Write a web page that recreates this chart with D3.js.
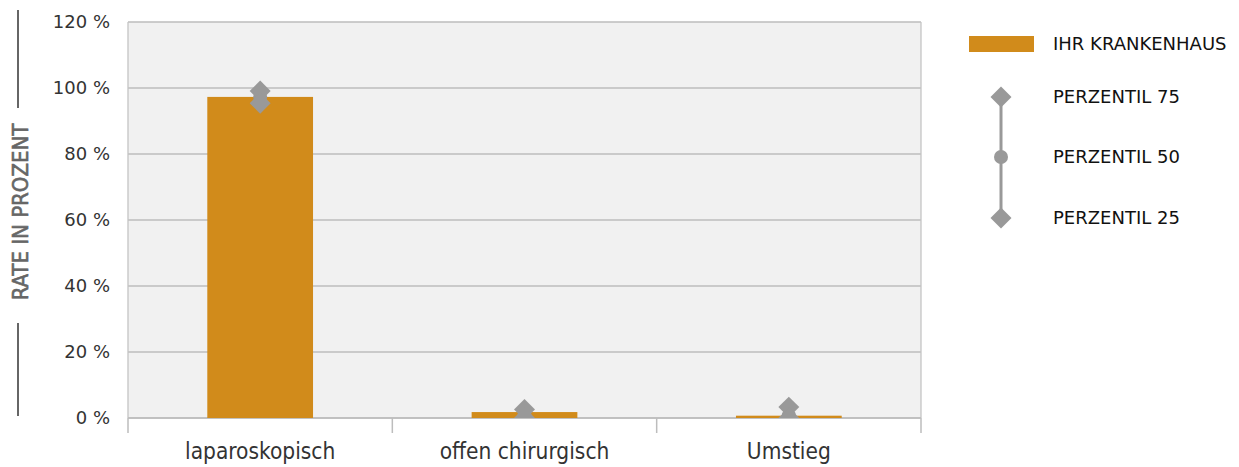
<!DOCTYPE html>
<html>
<head>
<meta charset="utf-8">
<script src="https://cdn.jsdelivr.net/npm/d3@7"></script>
<style>
  html, body { margin: 0; padding: 0; background: #fff; }
  svg { display: block; }
</style>
</head>
<body>
<svg id="chart" width="1239" height="467"></svg>
<script>
// Operationsverfahren: Rate des Krankenhauses und Perzentile der Vergleichsgruppe
const categories = ["laparoskopisch", "offen chirurgisch", "Umstieg"];
const hospitalRate = [97.3, 1.8, 0.7];
const percentile75 = [99.1, 2.6, 3.3];
const percentile50 = [97.3, 0.9, 0.8];
const percentile25 = [95.4, 0.0, 0.0];
const yTicks = [0, 20, 40, 60, 80, 100, 120];
const legendLabels = ["IHR KRANKENHAUS", "PERZENTIL 75", "PERZENTIL 50", "PERZENTIL 25"];

const orange = "#D18B1B";
const markerGray = "#999999";

const svg = d3.select("#chart");
const plot = { left: 128, right: 921, top: 22, bottom: 418 };

const x = d3.scaleBand().domain(categories).range([plot.left, plot.right]).paddingInner(0).paddingOuter(0);
const y = d3.scaleLinear().domain([0, 120]).range([plot.bottom, plot.top]);

// plot background
svg.append("rect")
  .attr("x", plot.left).attr("y", plot.top)
  .attr("width", plot.right - plot.left).attr("height", plot.bottom - plot.top)
  .attr("fill", "#f1f1f1");

// horizontal gridlines
svg.append("g").selectAll("line").data(yTicks).join("line")
  .attr("x1", plot.left).attr("x2", plot.right)
  .attr("y1", d => y(d)).attr("y2", d => y(d))
  .attr("stroke", "#bdbdbd").attr("stroke-width", 1.3);

// side borders
svg.append("g").selectAll("line").data([plot.left, plot.right]).join("line")
  .attr("x1", d => d).attr("x2", d => d)
  .attr("y1", plot.top).attr("y2", plot.bottom)
  .attr("stroke", "#c4c4c4").attr("stroke-width", 1.3);

// y axis tick labels
const yAxis = d3.axisLeft(y).tickValues(yTicks).tickFormat(d => d + " %").tickSize(0).tickPadding(18);
const yg = svg.append("g").attr("transform", `translate(${plot.left},0)`).call(yAxis);
yg.select(".domain").remove();
yg.selectAll("text")
  .attr("font-family", "DejaVu Sans, sans-serif")
  .attr("font-size", 18)
  .attr("fill", "#333");

// x axis with category separators
const xg = svg.append("g").attr("transform", `translate(0,${plot.bottom})`);
xg.append("line")
  .attr("x1", plot.left).attr("x2", plot.right).attr("y1", 0).attr("y2", 0)
  .attr("stroke", "#bdbdbd").attr("stroke-width", 1.5);
const seps = categories.map(c => x(c)).concat([x(categories[categories.length - 1]) + x.bandwidth()]);
xg.selectAll("line.sep").data(seps).join("line").attr("class", "sep")
  .attr("x1", d => d).attr("x2", d => d).attr("y1", 0).attr("y2", 15)
  .attr("stroke", "#bdbdbd").attr("stroke-width", 1.5);
xg.selectAll("text.cat").data(categories).join("text").attr("class", "cat")
  .attr("x", d => x(d) + x.bandwidth() / 2)
  .attr("y", 41)
  .attr("text-anchor", "middle")
  .attr("font-family", "DejaVu Sans Condensed, DejaVu Sans, sans-serif")
  .attr("font-stretch", "condensed")
  .attr("font-size", 22.5)
  .attr("fill", "#333")
  .text(d => d);

// clip for marks inside plot area
svg.append("clipPath").attr("id", "plotClip")
  .append("rect").attr("x", plot.left).attr("y", plot.top)
  .attr("width", plot.right - plot.left).attr("height", plot.bottom - plot.top);

// hospital bars
const barW = x.bandwidth() * 0.4;
svg.append("g").selectAll("rect").data(categories).join("rect")
  .attr("x", d => x(d) + (x.bandwidth() - barW) / 2)
  .attr("y", (d, i) => y(hospitalRate[i]))
  .attr("width", barW)
  .attr("height", (d, i) => y(0) - y(hospitalRate[i]))
  .attr("fill", orange);

// percentile markers
const diamond = d3.symbol().type(d3.symbolDiamond2).size(280);
const marks = svg.append("g").attr("clip-path", "url(#plotClip)");
categories.forEach((c, i) => {
  const cx = x(c) + x.bandwidth() / 2;
  marks.append("line")
    .attr("x1", cx).attr("x2", cx)
    .attr("y1", y(percentile75[i])).attr("y2", y(percentile25[i]))
    .attr("stroke", markerGray).attr("stroke-width", 3);
  marks.append("circle").attr("cx", cx).attr("cy", y(percentile50[i])).attr("r", 7).attr("fill", markerGray);
  [percentile75[i], percentile25[i]].forEach(v => {
    marks.append("path").attr("d", diamond)
      .attr("transform", `translate(${cx},${y(v)})`)
      .attr("fill", markerGray);
  });
});

// y axis title with flanking rules
const titleG = svg.append("g").attr("transform", "translate(20,212) rotate(-90)");
titleG.append("text")
  .attr("text-anchor", "middle")
  .attr("dy", "0.36em")
  .attr("font-family", "DejaVu Sans Condensed, DejaVu Sans, sans-serif")
  .attr("font-stretch", "condensed")
  .attr("font-size", 22)
  .attr("fill", "#666")
  .attr("stroke", "#666")
  .attr("stroke-width", 0.6)
  .text("RATE IN PROZENT");
svg.append("line").attr("x1", 18).attr("x2", 18).attr("y1", 10).attr("y2", 108)
  .attr("stroke", "#666").attr("stroke-width", 2);
svg.append("line").attr("x1", 18).attr("x2", 18).attr("y1", 323).attr("y2", 416)
  .attr("stroke", "#666").attr("stroke-width", 2);

// legend
const lg = svg.append("g");
const legendY = [44, 97, 157, 218];
lg.append("rect").attr("x", 969).attr("y", 36).attr("width", 65).attr("height", 16).attr("fill", orange);
lg.append("line").attr("x1", 1001).attr("x2", 1001).attr("y1", legendY[1]).attr("y2", legendY[3])
  .attr("stroke", markerGray).attr("stroke-width", 3);
lg.append("circle").attr("cx", 1001).attr("cy", legendY[2]).attr("r", 7).attr("fill", markerGray);
[legendY[1], legendY[3]].forEach(v => {
  lg.append("path").attr("d", diamond)
    .attr("transform", `translate(1001,${v})`)
    .attr("fill", markerGray);
});
lg.selectAll("text").data(legendLabels).join("text")
  .attr("x", 1053)
  .attr("y", (d, i) => legendY[i])
  .attr("dy", "0.36em")
  .attr("font-family", "DejaVu Sans, sans-serif")
  .attr("font-size", 18)
  .attr("fill", "#111")
  .text(d => d);
</script>
</body>
</html>
